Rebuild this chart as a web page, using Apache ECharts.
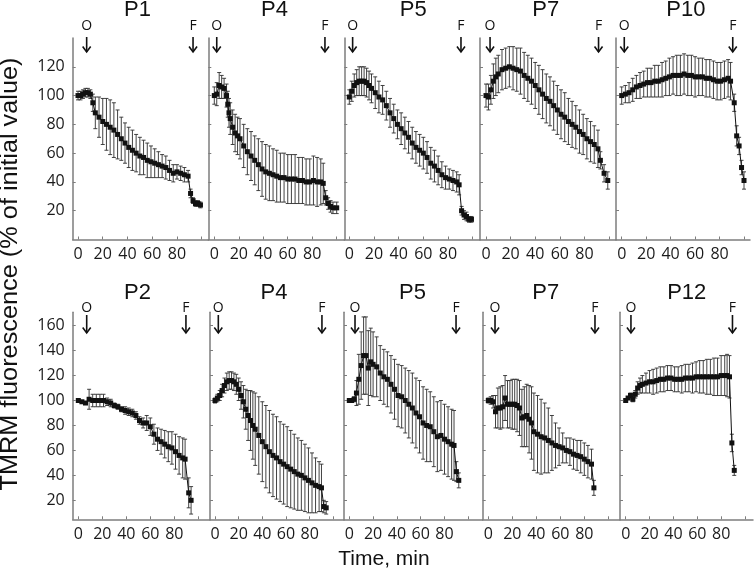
<!DOCTYPE html>
<html><head><meta charset="utf-8">
<script src="https://cdn.jsdelivr.net/npm/echarts@6/dist/echarts.min.js"></script>
<style>html,body{margin:0;padding:0;background:#fff}#c{width:755px;height:571px}</style>
</head><body><div id="c"></div>
<script>
// ---------------- DATA ----------------
const panelTitles = ['P1','P4','P5','P7','P10','P2','P4','P5','P7','P12'];
const yTitle = 'TMRM fluorescence (% of initial value)';
const xTitle = 'Time, min';
const topYLabels = [20,40,60,80,100,120];
const bottomYLabels = [20,40,60,80,100,120,140,160];
const xLabels = [0,20,40,60,80];
const xTickValues = [0,20,40,60,80,100];
const arrowO = [7,2,2.7,3.3,2.1, 7,2.8,4.8,5.6,4.4];
const arrowF = [93,90.4,90.5,91.5,90.8, 89.7,90.4,89.7,88.9,89.5];

// Top row
const p1Time = [0,2,4,6,8,10,12,14,17,20,23,26,29,32,35,38,41,44,47,50,53,56,59,62,65,68,71,74,77,80,83,86,89,91,93,95,97,99];
const p1Mean = [100,100,101,102,102,101,95,88,85,82,80,78,76,73,70,67,64,62,60,58,57,55,54,53,52,51,50,48,46,47,46,45,44,32,27,25,25,24];
const p1Sd   = [3,3,3,3,3,3,6,11,14,16,18,19,19,17,15,14,14,14,13,13,12,12,11,10,9,8,8,7,6,5,5,5,4,3,2,2,2,2];

const p4aTime = [0,2,4,6,8,10,11,12,13,15,17,19,21,24,27,30,33,36,39,42,45,48,51,54,57,60,63,66,69,72,75,78,81,84,87,89,91,93,95,97,100];
const p4aMean = [100,101,107,106,105,100,94,88,84,78,74,72,70,65,61,58,55,52,49,47,46,45,44,43,43,42,42,42,41,41,40,40,41,40,40,39,29,25,23,22,22];
const p4aSd   = [6,8,9,8,7,8,9,10,11,12,13,13,14,15,16,17,17,18,19,19,19,18,18,17,17,17,17,17,16,16,16,16,17,17,16,14,5,4,4,4,4];

const p5aTime = [0,2,4,6,8,10,12,14,16,18,21,24,27,30,33,36,39,42,45,48,51,54,57,60,63,66,69,72,75,78,81,84,87,89,91,93,95,97,99];
const p5aMean = [99,103,107,109,110,110,110,109,107,105,102,99,97,93,88,84,80,77,74,71,67,64,62,60,57,53,51,48,45,43,42,41,40,38,20,17,16,14,14];
const p5aSd   = [5,7,8,9,10,10,10,10,10,10,11,11,10,10,10,10,10,11,11,11,11,11,11,11,11,11,11,10,9,8,7,7,7,7,3,3,3,2,2];

const p7aTime = [0,2,4,6,8,10,13,16,19,22,25,28,31,34,37,40,43,46,49,52,55,58,61,64,67,70,73,76,79,82,85,88,91,93,96,99];
const p7aMean = [100,99,104,110,113,115,118,119,120,119,118,117,114,112,110,107,104,101,98,96,93,90,87,85,82,80,78,75,73,70,68,66,63,55,46,41];
const p7aSd   = [8,9,10,12,13,13,14,14,14,15,15,16,16,16,16,16,17,17,17,17,17,17,17,17,16,16,15,15,14,14,14,13,13,6,6,6];

const p10Time = [0,3,6,9,12,15,18,21,24,27,30,33,36,39,42,45,48,51,54,57,60,63,66,69,72,75,78,81,84,87,89,92,94,96,98,100];
const p10Mean = [100,101,102,104,106,107,108,109,109,110,110,111,112,113,114,114,114,115,114,114,113,113,113,112,112,111,110,110,111,112,110,95,72,65,50,41];
const p10Sd   = [6,6,7,8,8,9,9,10,10,11,11,12,12,13,13,14,14,14,14,14,14,13,13,13,13,13,13,13,13,13,13,6,7,6,5,6];

// Bottom row
const p2Time = [0,3,6,9,12,15,18,21,24,27,30,33,36,39,42,45,48,51,54,57,60,63,66,69,72,75,78,81,84,87,89,92,94];
const p2Mean = [100,99,98,101,100,100,100,100,99,98,96,95,93,92,91,90,88,84,82,82,79,73,69,67,65,63,62,59,56,54,53,26,20];
const p2Sd   = [1,1,1,8,5,5,5,5,3,3,2,2,2,3,3,3,3,3,4,6,7,8,9,10,11,12,13,14,15,16,16,12,11];

const p4bTime = [0,2,4,6,8,10,12,14,16,18,20,22,24,26,28,30,32,34,37,40,43,46,49,52,55,58,61,64,67,70,73,76,79,82,85,88,90,92,94];
const p4bMean = [100,102,104,108,112,115,116,116,115,113,109,104,99,93,88,84,80,77,72,67,63,59,56,54,51,49,47,45,43,41,40,38,36,34,32,31,30,15,14];
const p4bSd   = [2,3,4,5,6,7,7,7,7,8,9,11,13,16,20,24,27,29,31,32,33,33,33,33,32,32,32,31,30,29,28,27,26,24,22,20,19,5,5];

const p5bTime = [0,2,4,6,8,10,12,14,16,18,20,23,26,29,32,35,38,41,44,47,50,53,56,59,62,65,68,71,74,77,80,83,86,88,90,92];
const p5bMean = [100,100,101,106,117,128,136,136,126,131,129,127,122,119,117,113,109,104,103,100,97,94,90,87,82,80,79,75,71,72,69,67,65,64,43,36];
const p5bSd   = [1,1,2,10,20,27,31,31,30,27,26,24,22,22,22,23,24,25,25,26,27,28,28,29,29,29,28,28,28,28,28,28,28,28,8,6];

const p7bTime = [0,2,4,6,8,10,12,14,16,18,20,22,24,26,28,30,32,34,36,38,41,44,47,50,53,56,59,62,65,68,71,74,77,80,83,86,88];
const p7bMean = [100,100,99,91,94,94,95,102,97,97,97,97,96,94,86,87,88,85,82,75,73,71,70,68,66,64,63,62,60,59,57,56,55,53,51,49,30];
const p7bSd   = [2,3,5,13,16,17,17,18,19,19,20,20,21,22,23,24,25,27,29,31,31,30,28,26,22,18,15,12,10,11,12,12,13,13,13,12,6];

const p12Time = [0,2,4,6,8,10,12,14,17,20,23,26,29,32,35,38,41,44,47,50,53,56,59,62,65,68,71,74,77,80,83,85,87,89,91];
const p12Mean = [100,102,104,101,105,110,112,113,114,115,115,116,117,117,118,118,117,117,117,118,118,118,119,119,119,119,119,119,119,120,120,120,119,66,44];
const p12Sd   = [1,1,2,2,3,5,6,7,8,9,10,10,10,10,10,10,10,10,11,11,11,12,12,13,13,14,14,15,15,16,16,17,17,7,4];

const allTime = [p1Time,p4aTime,p5aTime,p7aTime,p10Time,p2Time,p4bTime,p5bTime,p7bTime,p12Time];
const allMean = [p1Mean,p4aMean,p5aMean,p7aMean,p10Mean,p2Mean,p4bMean,p5bMean,p7bMean,p12Mean];
const allSd   = [p1Sd,p4aSd,p5aSd,p7aSd,p10Sd,p2Sd,p4bSd,p5bSd,p7bSd,p12Sd];

// ---------------- LAYOUT ----------------
const rowsLayout = [
  {top:38, bottom:239.5, yMin:0, yMax:140, labelY:26, arrTop:37, arrBot:52, titleY:10},
  {top:312.3, bottom:519.3, yMin:4.8, yMax:170.7, labelY:308, arrTop:315, arrBot:333, titleY:292.5}
];
// [left, right, pixel of x=0, pixel of x=100]
const colsLayout = [
  [72.7,208.3,78,201.7],[208.3,344.3,214.3,336.7],[344.3,480,349.3,472.7],[480,616,486,609],[616,750,621.7,744],
  [72.7,210,78.3,198.3],[210,344,215,333.3],[344,482.7,349.3,468.3],[482.7,620,488.3,608.3],[620,753,625.7,745]
];
const titleX = [137.5,274.5,413.3,545.8,685.8, 137.5,274,412.5,545.8,686.7];

const AX = '#7d7d7d';
const TICKFONT = "'Open Sans', sans-serif";
const grids=[], xAxes=[], yAxes=[], series=[], graphics=[];

for (let i=0;i<10;i++){
  const row = i<5?0:1, col=i%5;
  const R = rowsLayout[row], C = colsLayout[i];
  const s = (C[3]-C[2])/100;
  const xMin = (C[0]-C[2])/s, xMax = (C[1]-C[2])/s;
  grids.push({left:C[0], top:R.top, width:C[1]-C[0], height:R.bottom-R.top});
  xAxes.push({type:'value', gridIndex:i, min:xMin, max:xMax,
    axisLine:{show:true, onZero:false, lineStyle:{color:AX, width:1.5}},
    axisTick:{show:true, inside:true, length:3, customValues:xTickValues, lineStyle:{color:AX, width:1}},
    axisLabel:{show:true, customValues:xLabels, fontSize:16, fontFamily:TICKFONT, color:'#1a1a1a', margin:7},
    splitLine:{show:false}});
  const yl = row===0?topYLabels:bottomYLabels;
  yAxes.push({type:'value', gridIndex:i, min:R.yMin, max:R.yMax,
    axisLine:{show:true, onZero:false, lineStyle:{color:AX, width:1.5}},
    axisTick:{show:true, inside:true, length:3, customValues:yl, lineStyle:{color:AX, width:1}},
    axisLabel:{show:col===0, customValues:yl, fontSize:16, fontFamily:TICKFONT, color:'#1a1a1a', margin:8},
    splitLine:{show:false}});
  const errData = allTime[i].map((t,k)=>[t, allMean[i][k]-allSd[i][k], allMean[i][k]+allSd[i][k]]);
  series.push({type:'custom', xAxisIndex:i, yAxisIndex:i, data:errData, z:1, silent:true,
    encode:{x:0, y:[1,2]},
    renderItem:function(params, api){
      const x=api.value(0), lo=api.value(1), hi=api.value(2);
      const a=api.coord([x,hi]), b=api.coord([x,lo]);
      const w=2, st={stroke:'#2e2e2e', lineWidth:0.9};
      return {type:'group', children:[
        {type:'line', shape:{x1:a[0],y1:a[1],x2:b[0],y2:b[1]}, style:st},
        {type:'line', shape:{x1:a[0]-w,y1:a[1],x2:a[0]+w,y2:a[1]}, style:st},
        {type:'line', shape:{x1:b[0]-w,y1:b[1],x2:b[0]+w,y2:b[1]}, style:st}
      ]};
    }});
  series.push({type:'line', xAxisIndex:i, yAxisIndex:i, z:3, silent:true,
    data: allTime[i].map((t,k)=>[t, allMean[i][k]]),
    symbol:'rect', symbolSize:5, showSymbol:true,
    itemStyle:{color:'#111'}, lineStyle:{color:'#111', width:1}, animation:false});
  const arrowLabels=['O','F'];
  series.push({type:'custom', xAxisIndex:i, yAxisIndex:i, z:4, silent:true, clip:false,
    data:[[arrowO[i], R.yMax],[arrowF[i], R.yMax]],
    renderItem:(function(Rr){ return function(params, api){
      const p=api.coord([api.value(0), api.value(1)]);
      const x=p[0];
      const st={stroke:'#111', lineWidth:1.6};
      return {type:'group', children:[
        {type:'text', style:{text:arrowLabels[params.dataIndex], x:x, y:Rr.labelY, align:'center', verticalAlign:'middle', font:"14px 'Open Sans', sans-serif", fill:'#111'}},
        {type:'line', shape:{x1:x,y1:Rr.arrTop,x2:x,y2:Rr.arrBot}, style:st},
        {type:'polyline', shape:{points:[[x-4,Rr.arrBot-5.5],[x,Rr.arrBot],[x+4,Rr.arrBot-5.5]]}, style:{stroke:'#111', lineWidth:1.6, fill:null}}
      ]};
    };})(R)});
  graphics.push({type:'text', x:titleX[i], y:R.titleY, style:{text:panelTitles[i], font:"22px 'Liberation Sans', Arial, sans-serif", fill:'#111', align:'center', verticalAlign:'middle'}});
}
graphics.push({type:'text', x:11, y:274, rotation:Math.PI/2, scaleX:1.1,
  style:{text:yTitle, font:"23px 'Liberation Sans', Arial, sans-serif", fill:'#111', align:'center', verticalAlign:'middle'}});
graphics.push({type:'text', x:384, y:559.5,
  style:{text:xTitle, font:"21px 'Liberation Sans', Arial, sans-serif", fill:'#111', align:'center', verticalAlign:'middle'}});

const chart = echarts.init(document.getElementById('c'), null, {renderer:'canvas'});
chart.setOption({animation:false, backgroundColor:'#fff', grid:grids, xAxis:xAxes, yAxis:yAxes, series:series, graphic:graphics});
</script></body></html>
